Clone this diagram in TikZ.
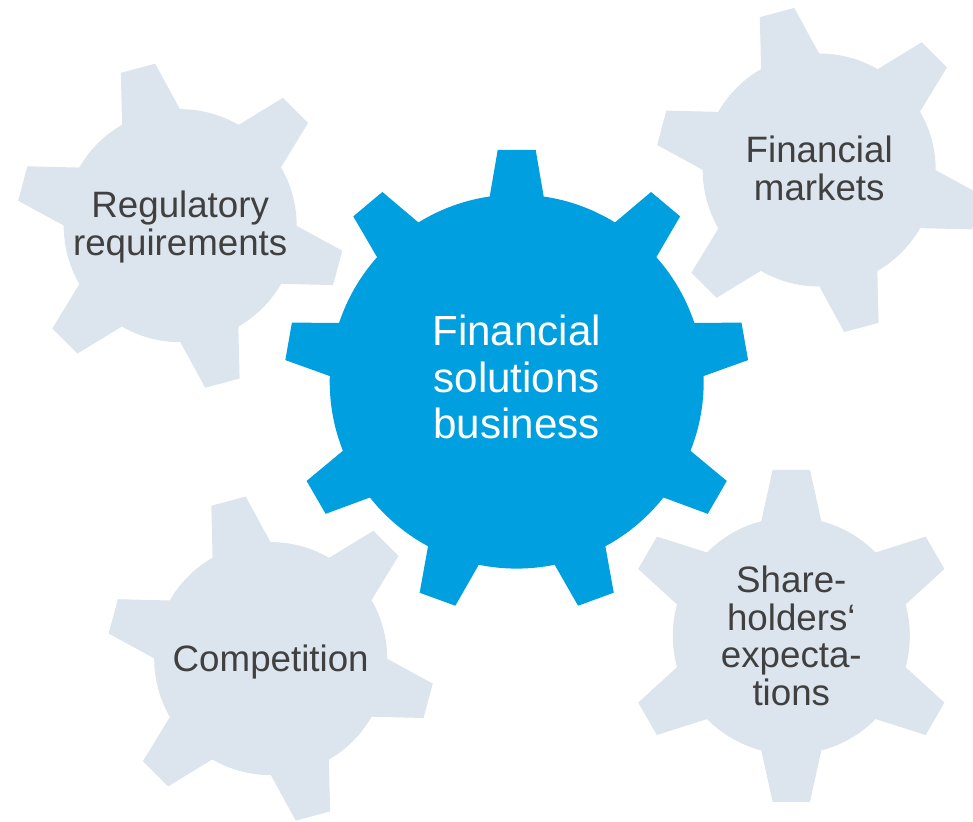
\documentclass[tikz,border=0pt]{standalone}
\usepackage{fontspec}
\setmainfont{Liberation Sans}

\definecolor{gearblue}{RGB}{0,159,223}
\definecolor{gearpale}{RGB}{220,228,237}
\definecolor{labelgrey}{RGB}{64,64,64}

% one gear wheel: style, centre, teeth, angle offset, body radius,
% tip radius, half width at tip, half width at root
\newcommand{\gearwheel}[8]{%
  \begin{scope}[shift={#2}]
    \fill[#1] (0,0) circle (#5);
    \pgfmathsetmacro{\gstep}{360/#3}
    \pgfmathsetmacro{\groot}{#5*sqrt(1-(#8/#5)^2)}
    \foreach \k in {1,...,#3}
      \fill[#1, rotate={#4+\k*\gstep}] (0,-#8) -- (\groot,-#8) -- (#6,-#7) -- (#6,#7) -- (\groot,#8) -- (0,#8) -- cycle;
  \end{scope}}

\tikzset{
  palegear/.style={fill=gearpale},
  bluegear/.style={fill=gearblue},
  gearlabel/.style={align=center, text=labelgrey, font=\fontsize{20.9}{21.5}\selectfont},
  mainlabel/.style={align=center, text=white, font=\fontsize{24}{26.4}\selectfont}
}

\begin{document}
\begin{tikzpicture}[x=0.02cm,y=0.02cm]
\clip (0,0) rectangle (973,821);

% outer gears
\gearwheel{palegear}{(180.2,595.3)}{6}{45}{116.5}{163}{17.8}{30}
\gearwheel{palegear}{(819.2,651)}{6}{45}{116.5}{163}{17.8}{30}
\gearwheel{palegear}{(270.7,162.4)}{6}{45}{116.5}{163}{17.8}{30}
\gearwheel{palegear}{(791.3,185.2)}{6}{30}{118.5}{166}{18.7}{30}

% centre gear
\gearwheel{bluegear}{(516.7,439.4)}{9}{50}{187}{231.6}{19}{27}

% labels
\node[gearlabel] (regulatory) at (180.2,594.2) {Regulatory\\requirements};
\node[gearlabel] (markets) at (819.2,652.5) {Financial\\markets};
\node[gearlabel] (competition) at (270.7,159) {Competition};
\node[gearlabel] (shareholders) at (791.3,185.2) {Share-\\holders‘\\expecta-\\tions};
\node[mainlabel] (business) at (516.7,444) {Financial\\solutions\\business};
\end{tikzpicture}
\end{document}
